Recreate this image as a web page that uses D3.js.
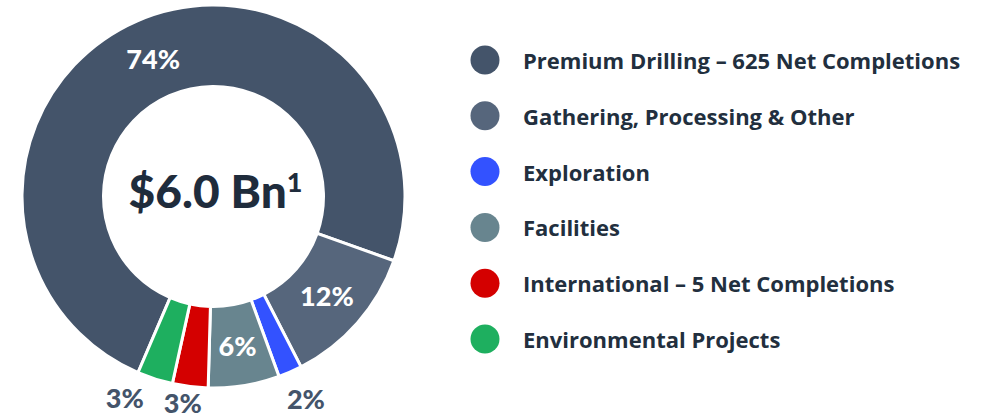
<!DOCTYPE html>
<html><head><meta charset="utf-8">
<script src="https://cdn.jsdelivr.net/npm/d3@7/dist/d3.min.js"></script>
<style>body{margin:0;background:#fff}svg{display:block}</style>
</head><body>
<svg id="c" width="997" height="419"></svg>
<script>
const categories = ["Premium Drilling \u2013 625 Net Completions","Gathering, Processing & Other","Exploration","Facilities","International \u2013 5 Net Completions","Environmental Projects"];
const values = [74, 12, 2, 6, 3, 3];
const labels = ["74%","12%","2%","6%","3%","3%"];
const colors = ["#44546A","#56667C","#3352FF","#68858F","#D40000","#1EAF5F"];
const centerTitle = "$6.0 Bn";
const centerSup = "1";

const svg = d3.select("#c");
const cx = 213.5, cy = 196.5, rOuter = 191.5, rInner = 110;
const data = categories.map((c,i)=>({cat:c, v:values[i], label:labels[i], color:colors[i], i}));
const start = 203.2*Math.PI/180;
const pie = d3.pie().value(d=>d.v).sort(null).startAngle(start).endAngle(start+2*Math.PI);
const arcs = pie(data);
const arc = d3.arc().innerRadius(rInner).outerRadius(rOuter);
const g = svg.append("g").attr("transform",`translate(${cx},${cy})`);
g.selectAll("path").data(arcs).join("path")
  .attr("d",arc).attr("fill",d=>d.data.color)
  .attr("stroke","#fff").attr("stroke-width",3).attr("stroke-linejoin","miter");

// labels: inside for large slices, outside for small ones
const inside = d=>d.data.v>=5;
const nudgeDeg = {2:-1, 4:1.5, 5:6};
const outerR = {2:222, 4:208, 5:220};
g.selectAll("text.lbl").data(arcs).join("text").attr("class","lbl")
  .attr("transform",d=>{
    if(inside(d)) { const [x,y]=arc.centroid(d); return `translate(${x},${y})`; }
    const a = (d.startAngle+d.endAngle)/2 + (nudgeDeg[d.index]||0)*Math.PI/180;
    const r = outerR[d.index]||222;
    return `translate(${r*Math.sin(a)},${-r*Math.cos(a)})`;
  })
  .attr("text-anchor","middle").attr("dominant-baseline","central")
  .attr("font-family","Lato, 'Open Sans', sans-serif").attr("font-weight",900).attr("font-size",27)
  .attr("fill",d=>inside(d)?"#fff":"#44546A")
  .text(d=>d.data.label);

// center text
const ct = svg.append("text").attr("x",cx+2).attr("y",208)
  .attr("text-anchor","middle")
  .attr("font-family","Lato, 'Open Sans', sans-serif").attr("font-weight",900).attr("font-size",46)
  .attr("fill","#1F2C3C");
ct.append("tspan").text(centerTitle);
ct.append("tspan").attr("font-size",27).attr("dy",-16).text(centerSup);

// legend
const lg = svg.append("g");
const rowY = d3.scalePoint().domain(d3.range(categories.length)).range([60,339]);
const items = lg.selectAll("g").data(data).join("g").attr("transform",d=>`translate(0,${rowY(d.i)})`);
items.append("circle").attr("cx",485).attr("cy",0).attr("r",14.5).attr("fill",d=>d.color);
items.append("text").attr("x",523).attr("y",0).attr("dominant-baseline","central")
  .attr("font-family","'Open Sans', Lato, sans-serif").attr("font-weight","bold").attr("font-size",22)
  .attr("fill","#222F3E").text(d=>d.cat);
</script>
</body></html>
